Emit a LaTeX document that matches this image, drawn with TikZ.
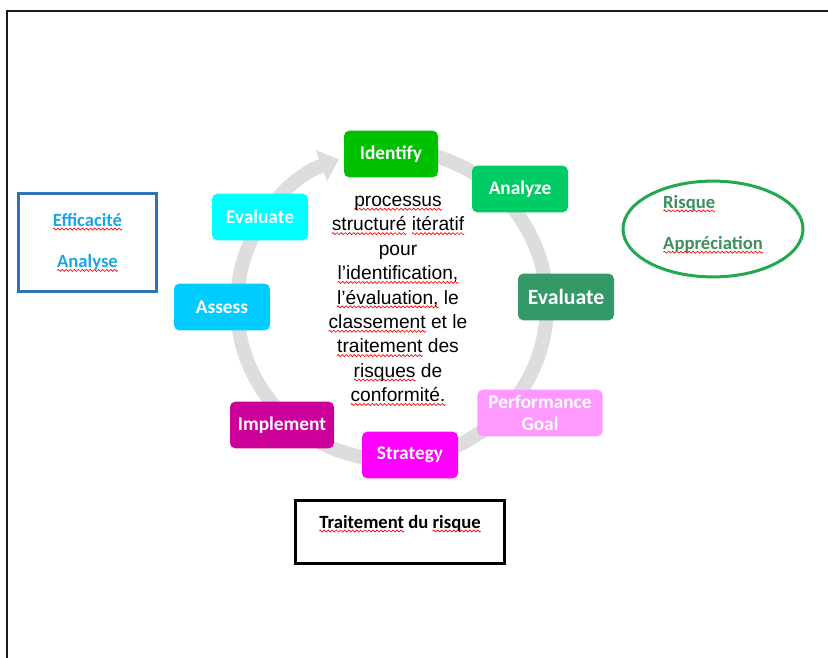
\documentclass[tikz,border=0pt]{standalone}
\usepackage{fontspec}
\usetikzlibrary{arrows.meta,shapes.geometric}
\newfontfamily\calfont{Carlito}
\newfontfamily\arialfont{Liberation Sans}
\definecolor{framecol}{HTML}{1A1A1A}
\definecolor{ringcol}{HTML}{DDDDDD}
\definecolor{cyclecol1}{HTML}{00C000}
\definecolor{cyclecol2}{HTML}{00CC66}
\definecolor{cyclecol3}{HTML}{339966}
\definecolor{cyclecol4}{HTML}{FF99FF}
\definecolor{cyclecol5}{HTML}{FF00FF}
\definecolor{cyclecol6}{HTML}{CC0099}
\definecolor{cyclecol7}{HTML}{00CCFF}
\definecolor{cyclecol8}{HTML}{00FFFF}
\definecolor{boxblue}{HTML}{2E75B6}
\definecolor{skyblue}{HTML}{1AA6E4}
\definecolor{ovalgreen}{HTML}{22A94F}
\definecolor{risktext}{HTML}{3E8E5E}
\newsavebox\wavebit
\newcommand\squig[1]{\setbox0=\hbox{#1}\rlap{\lower3pt\hbox to \wd0{\xleaders\copy\wavebit\hfil}}#1}

\begin{document}
\sbox\wavebit{\begin{pgfpicture}
	\pgfsetcolor{red}\pgfsetlinewidth{0.5pt}
	\pgfpathmoveto{\pgfpointorigin}
	\pgfpathsine{\pgfpoint{0.75pt}{0.75pt}}
	\pgfpathcosine{\pgfpoint{0.75pt}{-0.75pt}}
	\pgfpathsine{\pgfpoint{0.75pt}{-0.75pt}}
	\pgfpathcosine{\pgfpoint{0.75pt}{0.75pt}}
	\pgfusepath{stroke}
	\pgfresetboundingbox
	\pgfpathrectangle{\pgfpoint{0pt}{-1pt}}{\pgfpoint{3pt}{2pt}}
	\pgfusepath{use as bounding box}
\end{pgfpicture}}%
\begin{tikzpicture}[x=0.75pt,y=-0.75pt,
  stage/.style={rounded corners=4pt,minimum height=35pt,inner sep=2pt,text=white,align=center},
  sidetext/.style={font=\calfont\bfseries\fontsize{14}{17}\selectfont},
  ring/.style={ringcol,line width=10.5pt}]
\useasboundingbox (0,0) rectangle (828,657);
% frame, cut at right and bottom
\draw[framecol,line width=1.9pt] (7,670) |- (840,11);
% grey cycle
\draw[ring,-{Triangle[width=24pt,length=14pt]}] (392,305) ++(-80:155) arc[start angle=-80,end angle=250,radius=155];
\foreach \name/\col/\x/\y/\bw/\fs/\txt in {
	identify/cyclecol1/391/154/70.5/14.5/Identify,
	analyze/cyclecol2/520/189/72/14.5/Analyze,
	evalright/cyclecol3/566/297/72/16.3/Evaluate,
	goal/cyclecol4/540/413/94/14.5/{Performance\\Goal},
	strategy/cyclecol5/410/455/72/14.5/Strategy,
	implement/cyclecol6/282/425/78/14.5/Implement,
	assess/cyclecol7/222/307/72/14.5/Assess,
	evalleft/cyclecol8/260/217/72/14.5/Evaluate%
	}{
	\node[stage,fill=\col,minimum width=\bw pt,font=\calfont\bfseries\fontsize{\fs}{16}\selectfont] (\name) at (\x,\y) {\txt};
	}
\node[align=center,font=\arialfont\fontsize{14.4}{18.3}\selectfont] (core) at (398,301)
	{\squig{processus}\\\squig{structuré} \squig{itératif}\\pour\\\squig{l’identification,}\\\squig{l’évaluation,} le\\\squig{classement} et le\\\squig{traitement} des\\\squig{risques} de\\\squig{conformité.}};
\node[sidetext,draw=boxblue,line width=2.25pt,minimum width=104pt,minimum height=74pt,text=skyblue,align=center] (effbox) at (87.5,242.5)
	{\squig{Efficacité}\\[14pt]\squig{Analyse}};
\node[sidetext,ellipse,draw=ovalgreen,line width=2.25pt,minimum width=135pt,minimum height=66pt,inner sep=0pt,text depth=10pt,text=risktext,align=left] (riskoval) at (713,229)
	{\squig{Risque}\\[14pt]\squig{Appréciation}};
\node[sidetext,draw=black,line width=2.25pt,minimum width=157pt,minimum height=47pt,text height=10pt,text depth=15.5pt] (treat) at (400,532)
	{\squig{Traitement} du \squig{risque}};
\end{tikzpicture}
\end{document}
